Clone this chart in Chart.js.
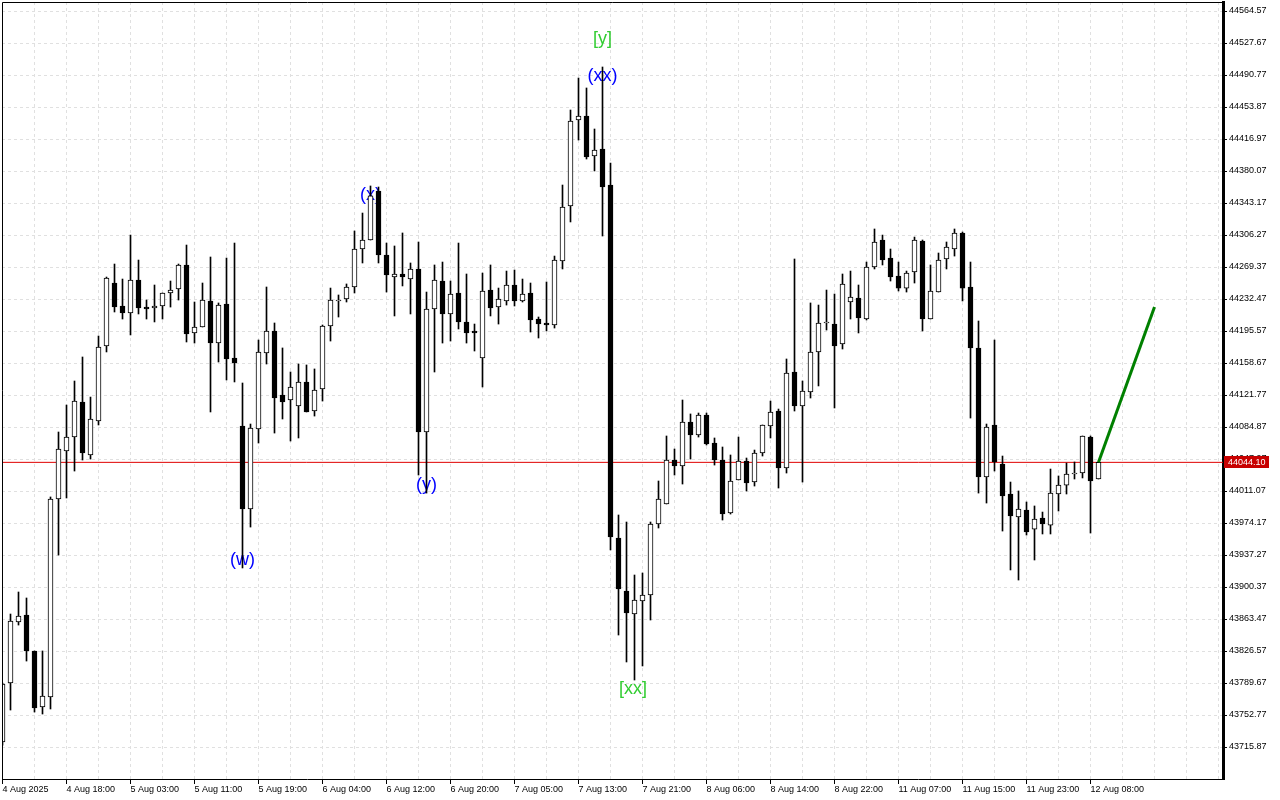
<!DOCTYPE html>
<html>
<head>
<meta charset="utf-8">
<title>H1 candles</title>
<script src="https://cdn.jsdelivr.net/npm/chart.js"></script>
<style>
  html, body { margin: 0; padding: 0; background: #fff; }
  canvas { display: block; }
</style>
</head>
<body>
<canvas id="chart" width="1280" height="800"></canvas>
<script>
// hourly bars, index 0 = first bar on the left
const openP = [43721.6, 43789.7, 43860.0, 43868.1, 43826.6, 43762.0, 43773.5, 44001.8, 44057.2, 44073.3,
  44113.7, 44052.6, 44091.8, 44178.3, 44250.9, 44224.4, 44216.3, 44254.4, 44223.2, 44222.1,
  44224.4, 44239.4, 44244.0, 44271.7, 44193.3, 44200.2, 44230.2, 44181.7, 44226.7, 44164.4,
  44086.0, 43990.3, 44082.6, 44170.2, 44195.6, 44121.8, 44116.0, 44109.1, 44136.8, 44103.3,
  44128.7, 44201.3, 44230.2, 44232.5, 44246.3, 44290.1, 44300.5, 44357.0, 44283.2, 44257.8,
  44261.3, 44255.5, 44267.1, 44079.1, 44220.9, 44253.2, 44215.2, 44239.4, 44206.0, 44195.6,
  44164.4, 44242.8, 44223.2, 44230.2, 44248.6, 44230.2, 44239.4, 44209.4, 44204.8, 44202.5,
  44276.3, 44339.7, 44438.9, 44443.5, 44397.4, 44405.4, 44363.9, 43956.9, 43895.8, 43869.2,
  43884.2, 43891.1, 43973.0, 43996.1, 44046.8, 44039.9, 44090.6, 44075.6, 44098.7, 44066.4,
  44046.8, 43985.7, 44023.8, 44045.6, 44021.4, 44054.9, 44086.0, 44103.3, 44037.6, 44148.3,
  44109.1, 44125.2, 44171.4, 44204.8, 44203.6, 44180.6, 44229.0, 44233.6, 44209.4, 44269.4,
  44300.5, 44279.7, 44259.0, 44245.1, 44263.6, 44299.3, 44209.4, 44240.5, 44278.6, 44290.1,
  44308.6, 44246.3, 44176.0, 44027.2, 44087.2, 44042.2, 44007.6, 43981.1, 43989.2, 43967.2,
  43979.9, 43971.8, 44007.6, 44017.9, 44030.7, 44031.8, 44073.3, 44024.9];

const highP = [43789.7, 43869.2, 43894.6, 43887.7, 43826.6, 43826.6, 44004.2, 44079.1, 44110.2, 44137.9,
  44165.6, 44119.4, 44189.8, 44257.8, 44272.8, 44255.5, 44306.2, 44277.4, 44231.3, 44248.6,
  44239.4, 44253.2, 44272.8, 44294.7, 44229.0, 44250.9, 44280.9, 44227.9, 44279.7, 44297.0,
  44135.6, 44088.3, 44185.2, 44246.3, 44204.8, 44176.0, 44148.3, 44157.5, 44156.4, 44151.8,
  44202.5, 44245.1, 44237.1, 44249.8, 44310.9, 44331.6, 44362.8, 44361.6, 44297.0, 44293.6,
  44308.6, 44274.0, 44298.2, 44240.5, 44271.7, 44275.1, 44253.2, 44297.0, 44261.3, 44203.6,
  44262.4, 44271.7, 44245.1, 44264.7, 44265.9, 44255.5, 44250.9, 44211.7, 44252.1, 44282.0,
  44363.9, 44450.4, 44487.3, 44475.8, 44428.5, 44500.0, 44389.3, 43983.4, 43975.3, 43914.2,
  43916.5, 43975.3, 44022.6, 44074.5, 44059.5, 44116.0, 44099.9, 44101.0, 44101.0, 44072.2,
  44061.8, 44052.6, 44073.3, 44049.1, 44058.3, 44087.2, 44114.8, 44105.6, 44163.3, 44278.6,
  44137.9, 44227.9, 44225.5, 44242.8, 44238.2, 44261.3, 44264.7, 44248.6, 44275.1, 44313.2,
  44306.2, 44290.1, 44275.1, 44264.7, 44303.9, 44300.5, 44271.7, 44285.5, 44298.2, 44313.2,
  44309.7, 44275.1, 44207.1, 44088.3, 44185.2, 44051.4, 44021.4, 44011.1, 43998.4, 43993.8,
  43986.8, 44036.4, 44028.4, 44043.3, 44044.5, 44074.5, 44074.5, 44044.1];

const lowP = [43718.1, 43758.5, 43856.5, 43815.0, 43756.2, 43753.9, 43759.7, 43937.2, 44003.0, 44034.1,
  44046.8, 44047.9, 44087.2, 44171.4, 44217.5, 44209.4, 44191.0, 44215.2, 44209.4, 44206.0,
  44209.4, 44223.2, 44231.3, 44182.9, 44181.7, 44200.2, 44102.2, 44159.8, 44139.1, 44136.8,
  43922.3, 43969.5, 44066.4, 44157.5, 44077.9, 44094.1, 44068.7, 44072.2, 44102.2, 44097.5,
  44114.8, 44184.0, 44211.7, 44229.0, 44239.4, 44274.0, 44300.5, 44274.0, 44240.5, 44212.9,
  44247.5, 44215.2, 44029.5, 44008.7, 44148.3, 44181.7, 44184.0, 44197.9, 44181.7, 44172.5,
  44131.0, 44212.9, 44203.6, 44225.5, 44224.4, 44229.0, 44194.4, 44187.5, 44195.6, 44199.0,
  44267.1, 44321.3, 44415.8, 44393.9, 44380.1, 44305.1, 43943.0, 43845.0, 43813.9, 43793.1,
  43809.3, 43862.3, 43968.4, 43996.1, 44029.5, 44019.1, 44047.9, 44073.3, 44064.1, 44041.0,
  43977.6, 43984.5, 44023.8, 44011.1, 44016.8, 44051.4, 44072.2, 44014.5, 44031.8, 44103.3,
  44021.4, 44118.3, 44132.2, 44196.7, 44106.8, 44174.8, 44209.4, 44193.3, 44208.3, 44267.1,
  44271.7, 44253.2, 44241.7, 44240.5, 44250.9, 44195.6, 44209.4, 44240.5, 44267.1, 44282.0,
  44230.2, 44095.2, 44008.7, 43997.2, 44034.1, 43964.9, 43920.0, 43908.4, 43960.3, 43931.5,
  43961.5, 43961.5, 43988.0, 44007.6, 44024.9, 44026.1, 43962.6, 44024.9];

const closeP = [43788.5, 43861.1, 43866.9, 43826.6, 43760.9, 43774.7, 44001.8, 44059.5, 44073.3, 44114.8,
  44054.9, 44094.1, 44177.1, 44256.7, 44223.2, 44216.3, 44254.4, 44222.1, 44220.9, 44224.4,
  44239.4, 44242.8, 44271.7, 44192.1, 44200.2, 44231.3, 44181.7, 44225.5, 44163.3, 44158.7,
  43990.3, 44083.7, 44171.4, 44195.6, 44118.3, 44113.7, 44131.0, 44136.8, 44102.2, 44127.5,
  44201.3, 44231.3, 44231.3, 44246.3, 44290.1, 44300.5, 44351.3, 44283.2, 44260.1, 44261.3,
  44257.8, 44267.1, 44079.1, 44220.9, 44254.4, 44215.2, 44238.2, 44206.0, 44193.3, 44193.3,
  44241.7, 44222.1, 44232.5, 44248.6, 44230.2, 44238.2, 44208.3, 44203.6, 44202.5, 44277.4,
  44338.5, 44437.7, 44443.5, 44396.2, 44404.3, 44361.6, 43958.0, 43898.1, 43870.4, 43885.4,
  43891.1, 43973.0, 44001.8, 44046.8, 44039.9, 44090.6, 44075.6, 44098.7, 44065.3, 44046.8,
  43984.5, 44022.6, 44045.6, 44020.3, 44054.9, 44087.2, 44102.2, 44037.6, 44147.1, 44109.1,
  44126.4, 44171.4, 44204.8, 44206.0, 44178.3, 44249.8, 44234.8, 44210.6, 44269.4, 44298.2,
  44277.4, 44257.8, 44245.1, 44262.4, 44300.5, 44209.4, 44241.7, 44277.4, 44292.4, 44308.6,
  44245.1, 44176.0, 44027.2, 44084.9, 44044.5, 44005.3, 43982.2, 43990.3, 43963.8, 43978.8,
  43973.0, 44008.7, 44017.9, 44030.7, 44031.8, 44074.5, 44022.6, 44044.1];

// one label every 8 bars
const xTickLabels = ['4 Aug 2025', '4 Aug 18:00', '5 Aug 03:00', '5 Aug 11:00', '5 Aug 19:00', '6 Aug 04:00',
  '6 Aug 12:00', '6 Aug 20:00', '7 Aug 05:00', '7 Aug 13:00', '7 Aug 21:00', '8 Aug 06:00',
  '8 Aug 14:00', '8 Aug 22:00', '11 Aug 07:00', '11 Aug 15:00', '11 Aug 23:00', '12 Aug 08:00'];

const yTickValues = [44564.57, 44527.67, 44490.77, 44453.87, 44416.97, 44380.07, 44343.17, 44306.27,
  44269.37, 44232.47, 44195.57, 44158.67, 44121.77, 44084.87, 44047.97, 44011.07, 43974.17,
  43937.27, 43900.37, 43863.47, 43826.57, 43789.67, 43752.77, 43715.87];

const lastPrice = 44044.10;

// projected move drawn in green
const targetIdx = [137, 144];
const targetPrice = [44044.1, 44223.2];

// wave marks
const waveText = ['(w)', '(x)', '(y)', '(xx)', '[y]', '[xx]'];
const waveIdx = [30, 46, 53, 75, 75, 78.8];
const wavePrice = [43931.5, 44352.4, 44018.0, 44489.6, 44532.3, 43782.8];
const waveColor = ['#0000ff', '#0000ff', '#0000ff', '#0000ff', '#32cd32', '#32cd32'];

const labelFont = { family: 'Liberation Sans', size: 9 };

const bodies = openP.map((o, i) => ({ x: i, y: [o, closeP[i]] }));
const wicks = lowP.map((l, i) => ({ x: i, y: [l, highP[i]] }));
const bodyFill = openP.map((o, i) => closeP[i] >= o ? '#ffffff' : '#000000');

const decorations = {
    id: 'decorations',
    beforeDatasetsDraw(chart) {
        const ctx = chart.ctx;
        const xs = chart.scales.x, ys = chart.scales.y;
        ctx.save();
        ctx.font = '18px "Liberation Sans"';
        ctx.textAlign = 'center';
        ctx.textBaseline = 'middle';
        waveText.forEach(function (t, k) {
            ctx.fillStyle = waveColor[k];
            ctx.fillText(t, xs.getPixelForValue(waveIdx[k]), ys.getPixelForValue(wavePrice[k]));
        });
        ctx.restore();
    },
    afterDraw(chart) {
        const ctx = chart.ctx, a = chart.chartArea;
        const ys = chart.scales.y;
        ctx.save();
        // left and top sides of the frame
        ctx.strokeStyle = '#000';
        ctx.lineWidth = 1;
        ctx.beginPath();
        ctx.moveTo(a.left + 0.5, a.bottom);
        ctx.lineTo(a.left + 0.5, a.top + 0.5);
        ctx.lineTo(a.right, a.top + 0.5);
        ctx.stroke();
        // current price tag on the axis
        const py = Math.round(ys.getPixelForValue(lastPrice));
        ctx.fillStyle = '#c80000';
        ctx.fillRect(a.right + 1, py - 6, 45, 12);
        ctx.fillStyle = '#ffffff';
        ctx.font = '9px "Liberation Sans"';
        ctx.textAlign = 'left';
        ctx.textBaseline = 'middle';
        ctx.fillText(lastPrice.toFixed(2), a.right + 5, py + 0.5);
        ctx.restore();
    }
};

new Chart(document.getElementById('chart'), {
    type: 'bar',
    data: {
        datasets: [
            {
                type: 'line',
                data: targetIdx.map((v, i) => ({ x: v, y: targetPrice[i] })),
                borderColor: '#008000',
                borderWidth: 3,
                pointRadius: 0,
                order: -1
            },
            {
                data: bodies,
                backgroundColor: bodyFill,
                borderColor: '#000000',
                borderWidth: 1,
                borderSkipped: false,
                barThickness: 5,
                maxBarThickness: 5,
                minBarLength: 1,
                grouped: false,
                order: 0
            },
            {
                data: wicks,
                backgroundColor: '#000000',
                borderWidth: 0,
                barThickness: 1,
                maxBarThickness: 1,
                grouped: false,
                order: 1
            },
            {
                type: 'line',
                data: [{ x: -1, y: lastPrice }, { x: 160, y: lastPrice }],
                borderColor: '#e00000',
                borderWidth: 1,
                pointRadius: 0,
                order: 2
            }
        ]
    },
    options: {
        responsive: false,
        devicePixelRatio: 1,
        animation: false,
        events: [],
        layout: { padding: { left: 2, top: 2, right: 0, bottom: 0 } },
        plugins: {
            legend: { display: false },
            tooltip: { enabled: false }
        },
        scales: {
            x: {
                type: 'linear',
                min: -0.0625,
                max: 152.5625,
                offset: false,
                afterBuildTicks: function (s) {
                    const t = [];
                    for (let v = 0; v <= 152; v += 4) t.push({ value: v });
                    s.ticks = t;
                },
                afterFit: function (s) {
                    s.height = 21;
                    s.paddingLeft = 0;
                    s.paddingRight = 0;
                },
                ticks: {
                    font: labelFont,
                    color: '#000',
                    align: 'start',
                    autoSkip: false,
                    maxRotation: 0,
                    minRotation: 0,
                    padding: 0,
                    callback: function (v) {
                        return (v % 8 === 0 && xTickLabels[v / 8]) ? xTickLabels[v / 8] : '';
                    }
                },
                grid: {
                    offset: false,
                    color: '#e0e0e0',
                    lineWidth: 1,
                    tickLength: 5,
                    tickBorderDash: [],
                    tickColor: function (c) {
                        return (c.tick && c.tick.value % 8 === 0 && c.tick.value <= 136) ? '#000' : 'rgba(0,0,0,0)';
                    }
                },
                border: { color: '#000', width: 1, dash: [3, 3] }
            },
            y: {
                type: 'linear',
                position: 'right',
                min: 43678.97,
                max: 44574.95,
                afterBuildTicks: function (s) {
                    s.ticks = yTickValues.map(v => ({ value: v }));
                },
                afterFit: function (s) {
                    s.width = 57;
                    s.paddingTop = 0;
                    s.paddingBottom = 0;
                },
                ticks: {
                    font: labelFont,
                    color: '#000',
                    padding: 2,
                    callback: v => v.toFixed(2)
                },
                grid: {
                    color: '#e0e0e0',
                    lineWidth: 1,
                    tickLength: 4,
                    tickBorderDash: [],
                    tickColor: '#000'
                },
                border: { color: '#000', width: 3, dash: [3, 3] }
            }
        }
    },
    plugins: [decorations]
});
</script>
</body>
</html>
